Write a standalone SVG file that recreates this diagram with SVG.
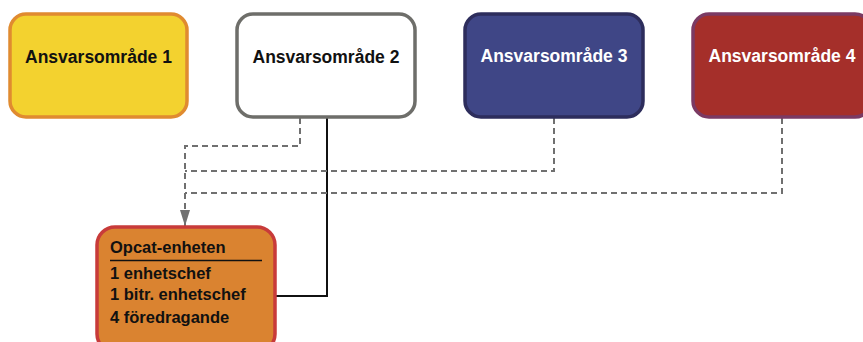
<svg xmlns="http://www.w3.org/2000/svg" width="863" height="342" viewBox="0 0 863 342">
<style>
.box{stroke-width:3.5}
.t{font-family:"Liberation Sans",Arial,sans-serif;font-weight:bold;font-size:17.5px;text-anchor:middle}
.s{font-family:"Liberation Sans",Arial,sans-serif;font-weight:bold;font-size:16.5px;fill:#111}
.dash{fill:none;stroke:#707070;stroke-width:2;stroke-dasharray:6 4}
.solid{fill:none;stroke:#111;stroke-width:2}
</style>
<defs>
<marker id="arr" viewBox="0 0 16 10" refX="16" refY="5" markerWidth="16" markerHeight="10" markerUnits="userSpaceOnUse" orient="auto">
<path d="M0,0 L16,5 L0,10 Z" fill="#707070"/>
</marker>
</defs>
<rect width="863" height="342" fill="#fff"/>
<g id="connectors">
<polyline class="solid" points="327,117 327,296 274,296"/>
<polyline class="dash" points="300,118 300,146 185,146 185,226" marker-end="url(#arr)"/>
<polyline class="dash" points="554,118 554,171 185,171"/>
<polyline class="dash" points="782,118 782,193 185,193"/>
</g>
<g id="a1">
<rect class="box" x="10" y="14" width="177" height="103" rx="16" fill="#F3D22F" stroke="#E08B30"/>
<text class="t" x="98.5" y="63" fill="#111">Ansvarsområde 1</text>
</g>
<g id="a2">
<rect class="box" x="237" y="14" width="178" height="103" rx="16" fill="#fff" stroke="#6E6E6A"/>
<text class="t" x="326" y="63" fill="#111">Ansvarsområde 2</text>
</g>
<g id="a3">
<rect class="box" x="465" y="14" width="178" height="103" rx="16" fill="#3F4686" stroke="#2D2D5C"/>
<text class="t" x="554" y="62" fill="#fff">Ansvarsområde 3</text>
</g>
<g id="a4">
<rect class="box" x="693" y="14" width="178" height="103" rx="16" fill="#A52F2A" stroke="#7B3A63"/>
<text class="t" x="782" y="62" fill="#fff">Ansvarsområde 4</text>
</g>
<g id="opcat">
<rect class="box" x="97" y="227" width="178" height="125" rx="18" fill="#DA8330" stroke="#C83B3A"/>
<text class="s" x="110" y="253">Opcat-enheten</text>
<line x1="110" y1="260.5" x2="262" y2="260.5" stroke="#111" stroke-width="1.3"/>
<text class="s" x="110" y="279">1 enhetschef</text>
<text class="s" x="110" y="300">1 bitr. enhetschef</text>
<text class="s" x="110" y="323">4 föredragande</text>
</g>
</svg>
